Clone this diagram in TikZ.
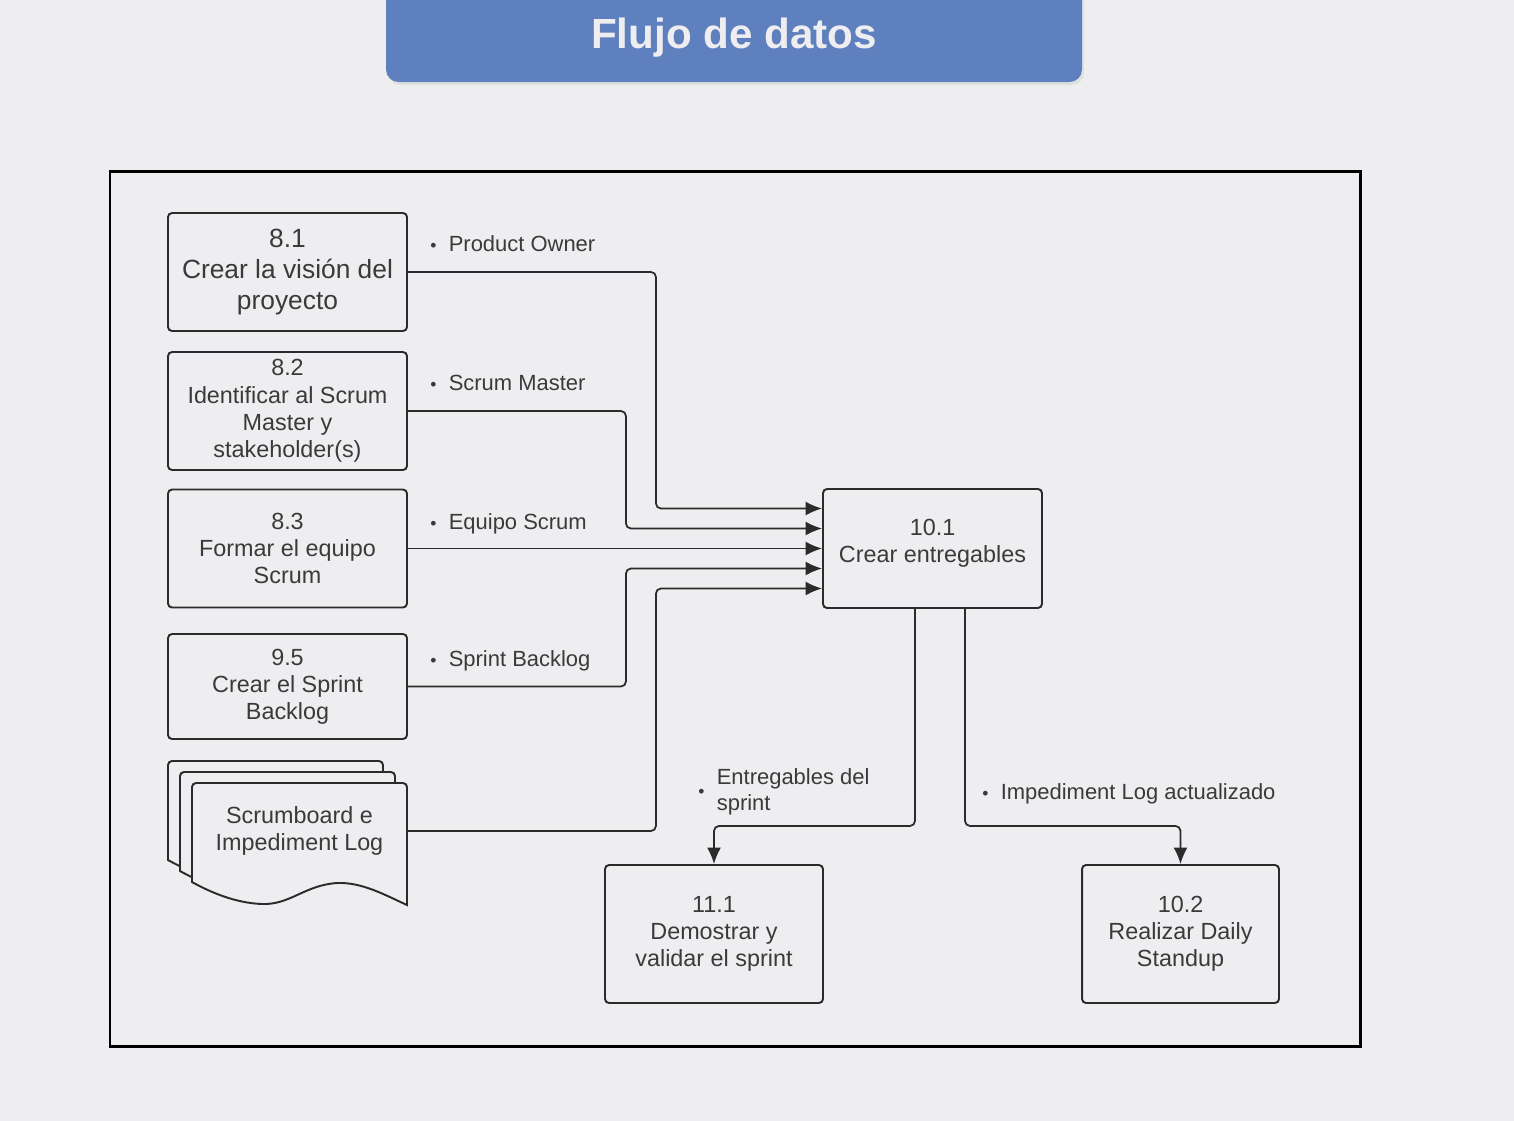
\documentclass[tikz,border=0pt]{standalone}
\usepackage{fontspec}
\setmainfont{Liberation Sans}
\usetikzlibrary{arrows.meta}
\definecolor{bgc}{HTML}{EEEEF0}
\definecolor{hdr}{HTML}{5F80BE}
\definecolor{lin}{HTML}{2B2B2B}
\definecolor{txt}{HTML}{3A3A3A}
\newcommand\lbul{{\fontsize{10}{10}\selectfont\textbullet}\hspace{7pt}}

\begin{document}
\begin{tikzpicture}[x=0.02cm, y=-0.02cm,
        box/.style={rectangle, draw=lin, line width=1.1pt, rounded corners=0.8mm, align=center, text=txt, inner sep=0pt, font=\fontsize{13.3}{15.5}\selectfont, minimum width=4.78cm, minimum height=2.36cm},
        lbl/.style={anchor=west, inner sep=0pt, text=txt, font=\fontsize{12.5}{15}\selectfont},
        arrow/.style={-{Latex[length=3.3mm,width=2.8mm]}, line width=1pt, draw=lin, rounded corners=1mm},
        page/.style={draw=lin, line width=1.1pt, fill=bgc},
        frame/.style={draw=black, line width=1.7pt}
    ]
        % Background and title
        \useasboundingbox (0,0) rectangle (1514,1120);
        \fill[bgc] (-10,-10) rectangle (1530,1130);
        \fill[black!12, rounded corners=2.5mm] (388,-30) rectangle (1084,85);
        \fill[hdr, rounded corners=2.5mm] (386,-30) rectangle (1082,82);
        \node[text=bgc, font=\fontsize{24}{28}\selectfont\bfseries] (ttl) at (734,38) {Flujo de datos};
        \draw[frame] (110,171) rectangle (1360,1046);

        % Inputs
        \node[box, font=\fontsize{15}{17.6}\selectfont] (p81) at (287.5,272) {8.1\\Crear la visión del\\proyecto};
        \node[box] (p82) at (287.5,411) {8.2\\Identificar al Scrum\\Master y\\stakeholder(s)};
        \node[box] (p83) at (287.5,548.5) {8.3\\Formar el equipo\\Scrum};
        \node[box, minimum height=2.1cm] (p95) at (287.5,686.5) {9.5\\Crear el Sprint\\Backlog};

        % Document stack
        \foreach \k in {2,1,0} {
            \begin{scope}[shift={(-12*\k,-11*\k)}]
                \draw[page] (192,882) [rounded corners=0.8mm] -- (192,783) -- (407,783) [sharp corners] -- (407,905)
                    .. controls (385,895) and (362,882) .. (337,883)
                    .. controls (305,885) and (290,905) .. (262,904)
                    .. controls (235,903) and (210,892) .. (192,882) -- cycle;
            \end{scope}
        }
        \node[box, draw=none, minimum width=4.3cm, minimum height=1.92cm] (scb) at (299.5,831) {Scrumboard e\\Impediment Log};

        % Process and outputs
        \node[box, minimum width=4.38cm, minimum height=2.38cm] (p101) at (932.5,548.5) {10.1\\Crear entregables\\[-0.25cm]};
        \node[box, minimum width=4.36cm, minimum height=2.76cm] (p111) at (714,934) {11.1\\Demostrar y\\validar el sprint};
        \node[box, minimum width=3.94cm, minimum height=2.76cm] (p102) at (1180.5,934) {10.2\\Realizar Daily\\Standup};

        % Entry points
        \coordinate (in1) at ([yshift=0.8cm]p101.west);
        \coordinate (in2) at ([yshift=0.4cm]p101.west);
        \coordinate (in4) at ([yshift=-0.4cm]p101.west);
        \coordinate (in5) at ([yshift=-0.8cm]p101.west);

        % Arrows
        \draw[arrow] (p81.east) -- ++(248,0) |- (in1);
        \draw[arrow] (p82.east) -- ++(218,0) |- (in2);
        \draw[arrow] (p83.east) -- (p101.west);
        \draw[arrow] (p95.east) -- ++(218,0) |- (in4);
        \draw[arrow] (scb.east) -- ++(248,0) |- (in5);
        \draw[arrow] ([xshift=-0.35cm]p101.south) -- ++(0,217) -| (p111.north);
        \draw[arrow] ([xshift=0.65cm]p101.south) -- ++(0,217) -| (p102.north);

        % Labels
        \node[lbl] (lbpo) at (430,244) {\lbul Product Owner};
        \node[lbl] (lbsm) at (430,383) {\lbul Scrum Master};
        \node[lbl] (lbes) at (430,524) {\lbul Equipo Scrum};
        \node[lbl] (lbsb) at (430,661) {\lbul Sprint Backlog};
        \node[lbl] (lbent) at (698,792) {\lbul\begin{tabular}{@{}l@{}}Entregables del\\sprint\end{tabular}};
        \node[lbl] (lbil) at (982,794) {\lbul Impediment Log actualizado};
    \end{tikzpicture}
\end{document}
